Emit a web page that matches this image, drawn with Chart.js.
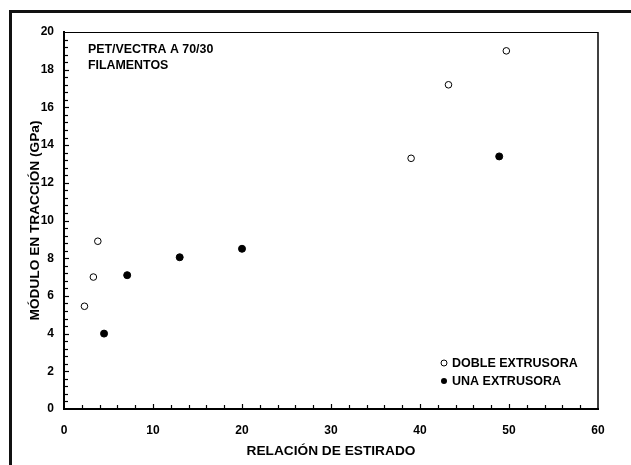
<!DOCTYPE html>
<html>
<head>
<meta charset="utf-8">
<script src="https://cdn.jsdelivr.net/npm/chart.js@4/dist/chart.umd.min.js"></script>
<style>
  html, body { margin: 0; padding: 0; background: #fff; }
  #wrap { width: 631px; height: 465px; position: relative; }
</style>
</head>
<body>
<div id="wrap"><canvas id="modChart"></canvas></div>
<script>
// data
const dobleX = [2.3, 3.3, 3.8, 39, 43.2, 49.7];
const dobleY = [5.45, 7.0, 8.9, 13.3, 17.2, 19.0];
const unaX = [4.5, 7.1, 13, 20, 48.9];
const unaY = [4.0, 7.1, 8.05, 8.5, 13.4];

const seriesNames = ['DOBLE EXTRUSORA', 'UNA EXTRUSORA'];
const noteLines = ['PET/VECTRA A 70/30', 'FILAMENTOS'];
const xTitle = 'RELACIÓN DE ESTIRADO';
const yTitle = 'MÓDULO EN TRACCIÓN (GPa)';

const FONT = "'Liberation Sans', Arial, sans-serif";

function toPoints(xs, ys) {
  return xs.map((x, i) => ({ x: x, y: ys[i] }));
}

// outer frame, top/right box lines, inward ticks, note and legend
const decorations = {
  id: 'decorations',
  beforeDraw(chart) {
    const ctx = chart.ctx;
    ctx.save();
    ctx.fillStyle = '#111';
    ctx.fillRect(9, 10, 631 - 9, 3);
    ctx.fillRect(9, 10, 3, 465 - 10);
    ctx.restore();
  },
  afterDraw(chart) {
    const ctx = chart.ctx;
    const a = chart.chartArea;
    const xs = chart.scales.x;
    const ys = chart.scales.y;
    ctx.save();
    ctx.strokeStyle = '#000';

    // top and right lines of the box
    ctx.lineWidth = 1;
    ctx.beginPath();
    ctx.moveTo(a.left, a.top + 0.5);
    ctx.lineTo(a.right, a.top + 0.5);
    ctx.stroke();
    ctx.lineWidth = 1.5;
    ctx.beginPath();
    ctx.moveTo(a.right, a.top);
    ctx.lineTo(a.right, a.bottom);
    ctx.stroke();

    // inward ticks
    ctx.lineWidth = 1.2;
    for (let v = 2; v < 60; v += 2) {
      const px = Math.round(xs.getPixelForValue(v)) + 0.5;
      const len = v % 10 === 0 ? 5 : 4;
      ctx.beginPath();
      ctx.moveTo(px, a.bottom);
      ctx.lineTo(px, a.bottom - len);
      ctx.stroke();
    }
    for (let k = 1; k < 50; k++) {
      const v = k * 0.4;
      const py = Math.round(ys.getPixelForValue(v)) + 0.5;
      const len = k % 5 === 0 ? 5 : 4;
      ctx.beginPath();
      ctx.moveTo(a.left, py);
      ctx.lineTo(a.left + len, py);
      ctx.stroke();
    }

    // note in the top left corner
    ctx.fillStyle = '#000';
    ctx.font = 'bold 12.4px ' + FONT;
    ctx.textBaseline = 'middle';
    ctx.textAlign = 'left';
    ctx.fillText(noteLines[0], a.left + 24, a.top + 18);
    ctx.fillText(noteLines[1], a.left + 24, a.top + 34);

    // legend, lower right
    ctx.font = 'bold 12.5px ' + FONT;
    const lx = a.right - 154;
    const ly = [a.bottom - 46, a.bottom - 28];
    ctx.lineWidth = 1;
    for (let i = 0; i < 2; i++) {
      ctx.beginPath();
      ctx.arc(lx, ly[i], 3, 0, Math.PI * 2);
      if (i === 0) {
        ctx.fillStyle = '#fff';
        ctx.fill();
        ctx.stroke();
      } else {
        ctx.fillStyle = '#000';
        ctx.fill();
      }
      ctx.fillStyle = '#000';
      ctx.fillText(seriesNames[i], lx + 8, ly[i] + 0.5);
    }
    ctx.restore();
  }
};

new Chart(document.getElementById('modChart').getContext('2d'), {
  type: 'scatter',
  data: {
    datasets: [
      {
        label: seriesNames[0],
        data: toPoints(dobleX, dobleY),
        pointRadius: 3.3,
        pointBackgroundColor: '#fff',
        pointBorderColor: '#000',
        pointBorderWidth: 1
      },
      {
        label: seriesNames[1],
        data: toPoints(unaX, unaY),
        pointRadius: 3.5,
        pointBackgroundColor: '#000',
        pointBorderColor: '#000',
        pointBorderWidth: 1
      }
    ]
  },
  options: {
    responsive: true,
    maintainAspectRatio: false,
    animation: false,
    layout: { padding: { left: 0, top: 32, right: 33, bottom: 0 } },
    plugins: {
      legend: { display: false },
      tooltip: { enabled: false }
    },
    scales: {
      x: {
        type: 'linear',
        min: 0,
        max: 60,
        afterFit(scale) { scale.height = 56; },
        grid: { display: false, drawTicks: false },
        border: { display: true, color: '#000', width: 2 },
        ticks: {
          stepSize: 10,
          padding: 14,
          color: '#000',
          font: { family: FONT, size: 12, weight: 'bold' }
        },
        title: {
          display: true,
          text: xTitle,
          color: '#000',
          padding: { top: 0, bottom: 6 },
          font: { family: FONT, size: 13.7, weight: 'bold' }
        }
      },
      y: {
        type: 'linear',
        min: 0,
        max: 20,
        afterFit(scale) { scale.width = 64; },
        grid: { display: false, drawTicks: false },
        border: { display: true, color: '#000', width: 2 },
        ticks: {
          stepSize: 2,
          padding: 10,
          color: '#000',
          font: { family: FONT, size: 12, weight: 'bold' }
        },
        title: {
          display: true,
          text: yTitle,
          color: '#000',
          padding: { top: 27, bottom: 0 },
          font: { family: FONT, size: 13.7, weight: 'bold' }
        }
      }
    }
  },
  plugins: [decorations]
});
</script>
</body>
</html>
